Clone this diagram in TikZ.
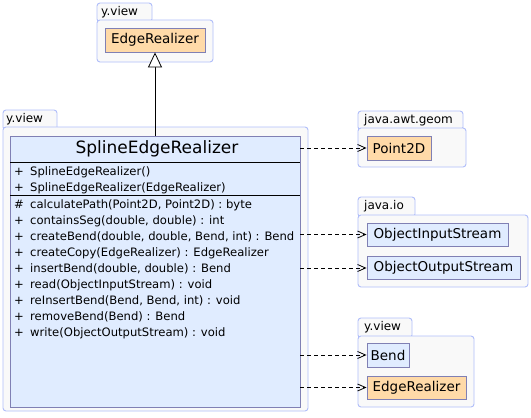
\documentclass[tikz,border=0pt]{standalone}
\usepackage{fontspec}
\setmainfont{DejaVu Sans}
\usetikzlibrary{arrows.meta}
\definecolor{pkgline}{RGB}{176,190,250}
\definecolor{pkgfill}{RGB}{249,249,249}
\definecolor{clsfill}{RGB}{224,236,255}
\definecolor{clsline}{RGB}{128,128,180}
\definecolor{orfill}{RGB}{255,218,168}
\newcommand{\vis}[1]{\makebox[16pt][l]{#1}}
\begin{document}
\begin{tikzpicture}[x=1pt,y=-1pt,
  pkgshape/.style={draw=pkgline,fill=pkgfill,rounded corners=3pt,line width=0.9pt},
  pkglabel/.style={anchor=west,inner sep=0pt,font=\fontsize{12}{14}\selectfont},
  box/.style={draw=clsline,line width=0.9pt,inner sep=0pt,font=\fontsize{13.5}{16}\selectfont},
  bluebox/.style={box,fill=clsfill},
  orbox/.style={box,fill=orfill},
  member/.style={anchor=west,inner sep=0pt,font=\fontsize{11.6}{14}\selectfont},
  dep/.style={dash pattern=on 4pt off 3pt,line width=0.8pt,-{Straight Barb[length=8pt,width=7pt]}},
  gen/.style={line width=0.8pt,-{Triangle[open,length=15pt,width=14pt,fill=white]}}
]
\useasboundingbox (0,0) rectangle (531,418);
\fill[white] (0,0) rectangle (531,418);

% top package y.view
\draw[pkgshape] (97,3) rectangle (152,22);
\draw[pkgshape] (97,20) rectangle (213,62);
\node[pkglabel] (pkgA) at (101,12) {y.view};
\node[orbox,minimum width=100pt,minimum height=24pt] (er1) at (155,40) {EdgeRealizer};

% main package
\draw[pkgshape] (3,110) rectangle (57,130);
\draw[pkgshape] (3,127) rectangle (308,411);
\node[pkglabel] (pkgB) at (6,119) {y.view};
\node[bluebox,minimum width=290pt,minimum height=271pt] (sc) at (155,271.5) {};
\node[inner sep=0pt,font=\fontsize{17}{20}\selectfont] (title) at (157,149) {SplineEdgeRealizer};
\draw[line width=0.8pt] (10,162) -- (300,162);
\draw[line width=0.8pt] (10,195) -- (300,195);
\node[member] (m1) at (14,172) {\vis{+}SplineEdgeRealizer()};
\node[member] (m2) at (14,188) {\vis{+}SplineEdgeRealizer(EdgeRealizer)};
\node[member] (m3) at (14,205) {\vis{\#}calculatePath(Point2D, Point2D) : byte};
\node[member] (m4) at (14,221) {\vis{+}containsSeg(double, double) : int};
\node[member] (m5) at (14,237) {\vis{+}createBend(double, double, Bend, int) : Bend};
\node[member] (m6) at (14,253) {\vis{+}createCopy(EdgeRealizer) : EdgeRealizer};
\node[member] (m7) at (14,269) {\vis{+}insertBend(double, double) : Bend};
\node[member] (m8) at (14,285) {\vis{+}read(ObjectInputStream) : void};
\node[member] (m9) at (14,301) {\vis{+}reInsertBend(Bend, Bend, int) : void};
\node[member] (m10) at (14,317) {\vis{+}removeBend(Bend) : Bend};
\node[member] (m11) at (14,333) {\vis{+}write(ObjectOutputStream) : void};

% java.awt.geom
\draw[pkgshape] (358,111) rectangle (463,130);
\draw[pkgshape] (358,128) rectangle (466,167);
\node[pkglabel] (pkgC) at (364,120) {java.awt.geom};
\node[orbox,minimum width=64pt,minimum height=24pt] (pt) at (399,148) {Point2D};

% java.io
\draw[pkgshape] (358,197) rectangle (415,217);
\draw[pkgshape] (358,215) rectangle (528,287);
\node[pkglabel] (pkgD) at (364,206) {java.io};
\node[bluebox,minimum width=141pt,minimum height=23pt] (ois) at (437.5,234.5) {ObjectInputStream};
\node[bluebox,minimum width=153pt,minimum height=23pt] (oos) at (443.5,268) {ObjectOutputStream};

% bottom y.view
\draw[pkgshape] (358,318) rectangle (412,338);
\draw[pkgshape] (358,336) rectangle (474,407);
\node[pkglabel] (pkgE) at (364,327) {y.view};
\node[bluebox,minimum width=42pt,minimum height=24pt] (bend) at (388,355) {Bend};
\node[orbox,minimum width=99pt,minimum height=23pt] (er2) at (416.5,387.5) {EdgeRealizer};

% connectors
\draw[gen] (sc.north) -- (er1.south);
\draw[dep] (pt.west -| sc.east) -- (pt.west);
\draw[dep] (ois.west -| sc.east) -- (ois.west);
\draw[dep] (oos.west -| sc.east) -- (oos.west);
\draw[dep] (bend.west -| sc.east) -- (bend.west);
\draw[dep] (er2.west -| sc.east) -- (er2.west);
\end{tikzpicture}
\end{document}
